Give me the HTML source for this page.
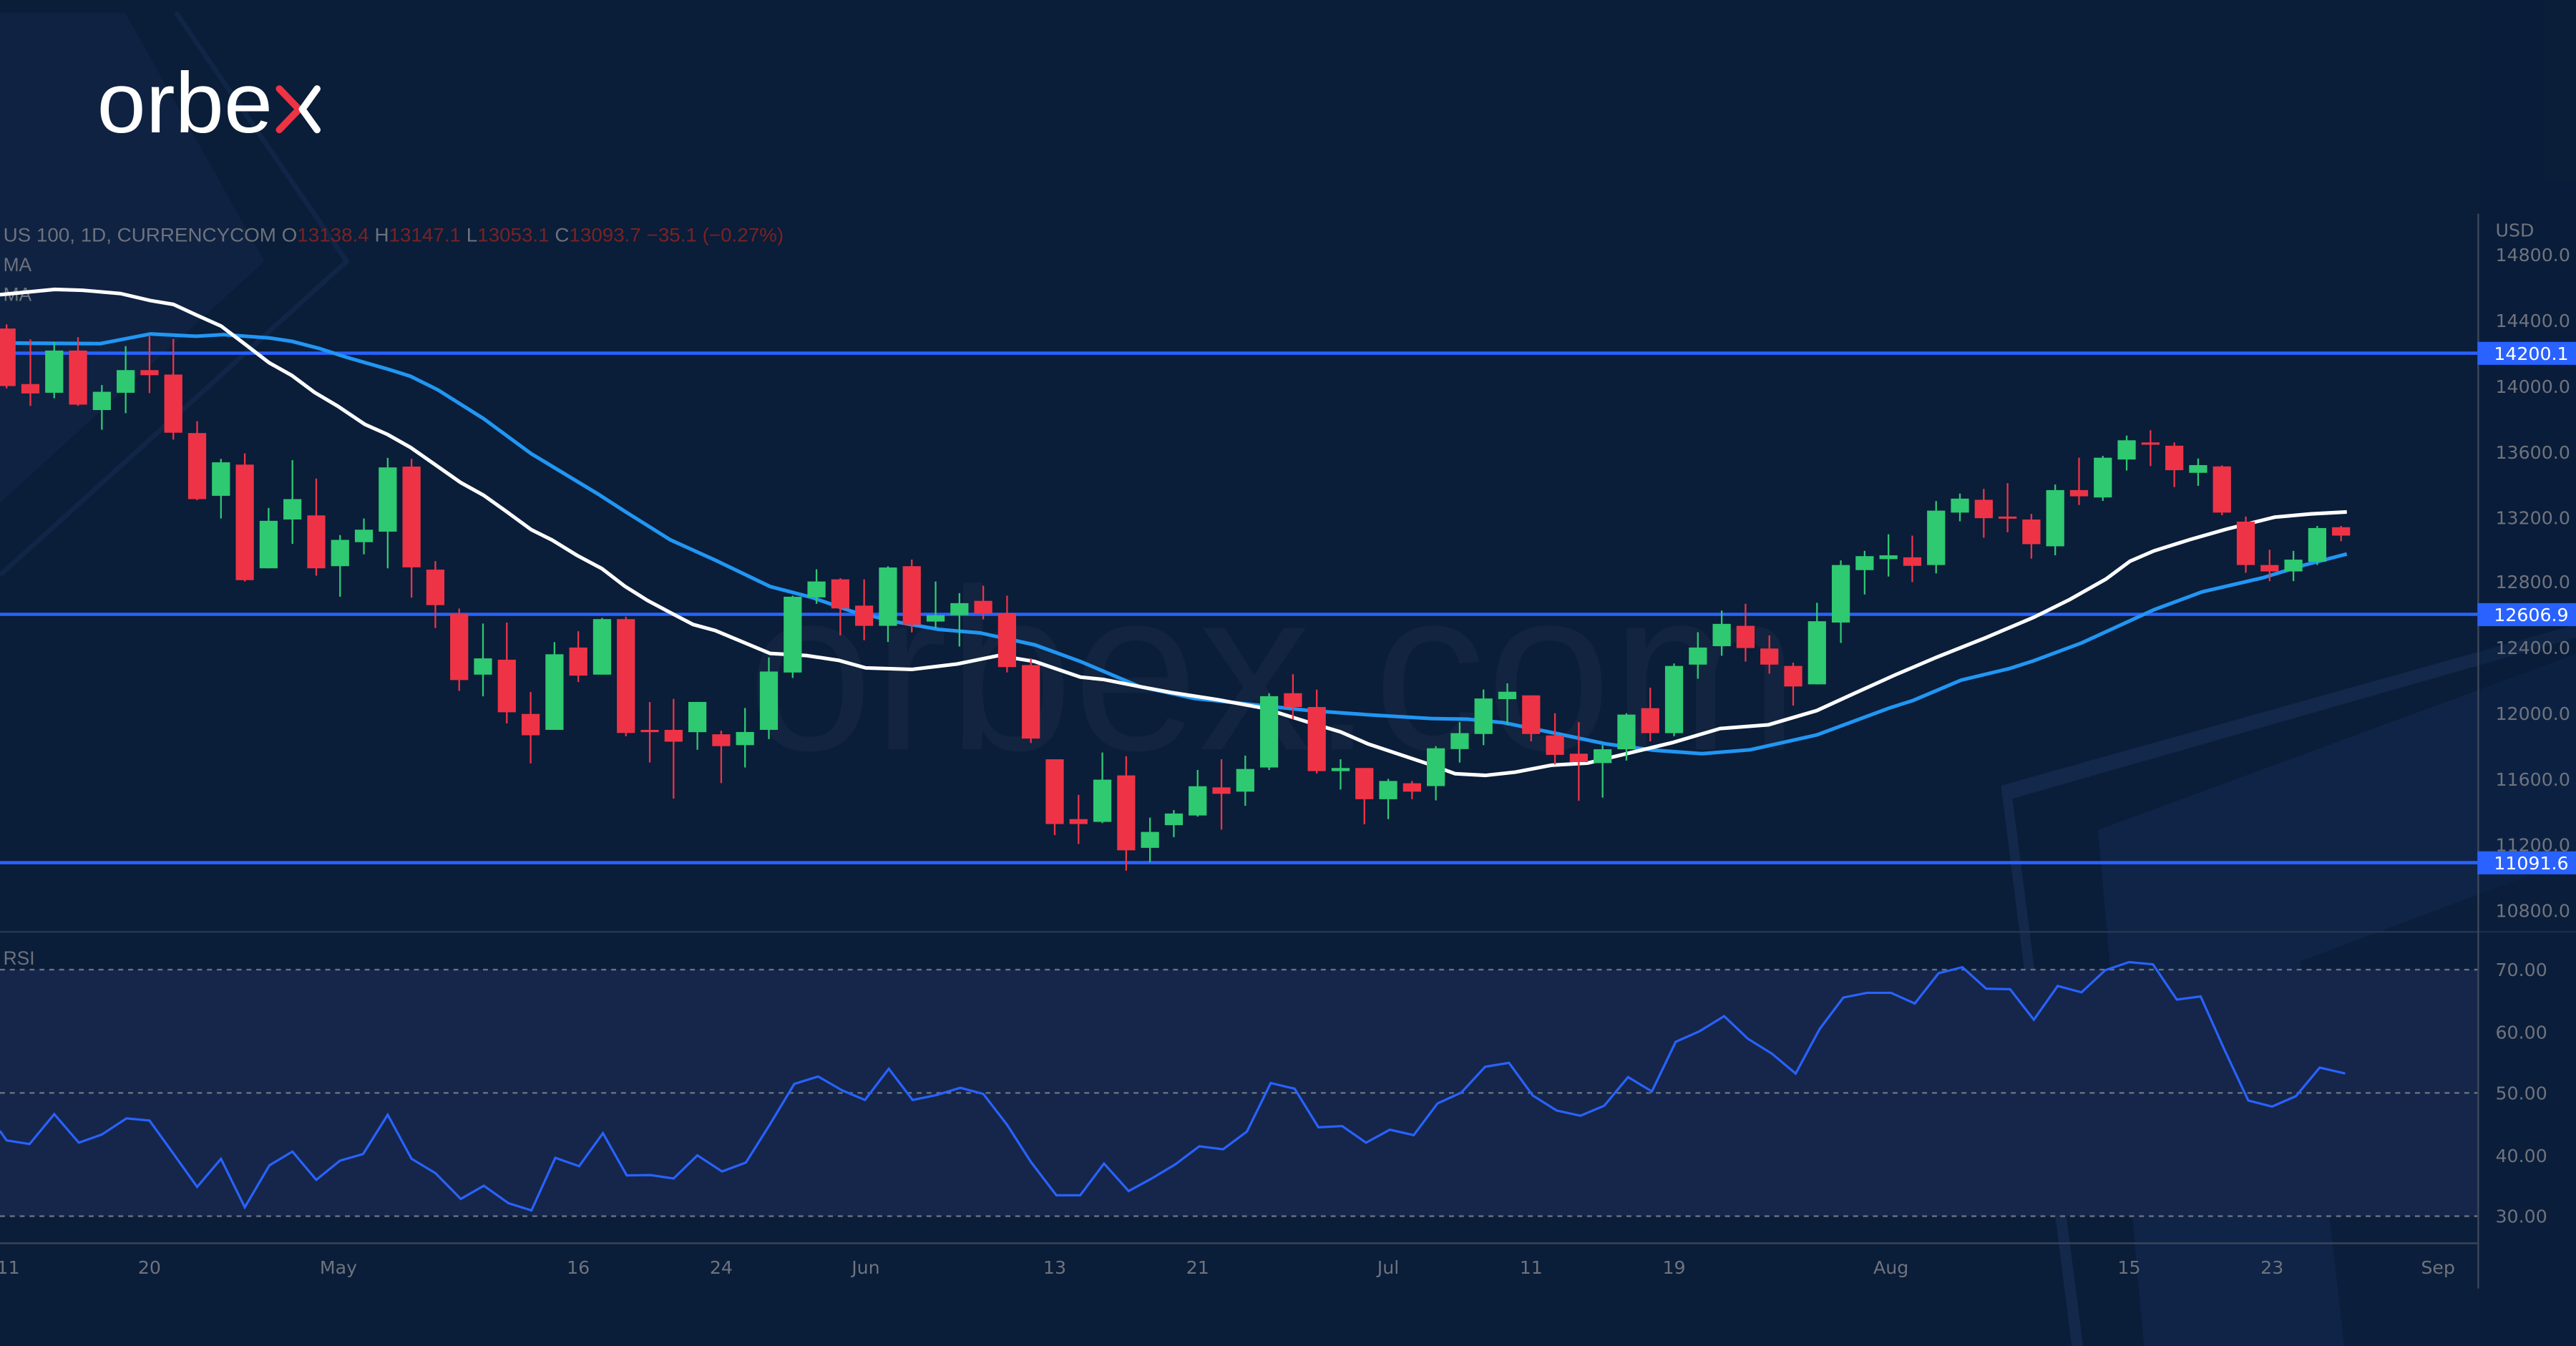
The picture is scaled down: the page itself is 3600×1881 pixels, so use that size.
<!DOCTYPE html>
<html><head><meta charset="utf-8"><style>
html,body{margin:0;padding:0;background:#0a1d39;}
svg{display:block}
</style></head><body>
<svg xmlns="http://www.w3.org/2000/svg" width="3600" height="1881" viewBox="0 0 1568 819" preserveAspectRatio="none">
<rect x="0" y="0" width="1568" height="819" fill="#0a1d39"/>
<polygon points="0,7.5 76,7.5 161,159 0,306" fill="#0f2444" opacity="0.9"/>
<polyline points="107,7.5 211,159 0,350" fill="none" stroke="#112646" stroke-width="3"/>
<polygon points="1218,478 1568,380 1568,388 1225,486 1268,819 1261,819" fill="#13284a"/>
<polygon points="1277,505 1568,398 1568,819 1305,819" fill="#11264a" opacity="0.85"/>
<polygon points="1400,585 1568,522 1568,819 1427,819" fill="#0b1e3b"/>
<text x="455" y="456" font-family="Liberation Sans, sans-serif" font-size="140" fill="#ffffff" fill-opacity="0.035" textLength="640" lengthAdjust="spacingAndGlyphs">orbex.com</text>
<text x="59" y="80.6" font-family="Liberation Sans, sans-serif" font-size="52" fill="#ffffff" textLength="107" lengthAdjust="spacingAndGlyphs">orbe</text>
<polyline points="170,54 182,66.5 170,79" fill="none" stroke="#ee3344" stroke-width="4.2" stroke-linecap="round" stroke-linejoin="round"/>
<polyline points="193,54 184,66.5 193,79" fill="none" stroke="#ffffff" stroke-width="4.2" stroke-linecap="round" stroke-linejoin="round"/>
<rect x="0" y="590" width="1508" height="150" fill="#15264a"/>
<g stroke="#6a7282" stroke-width="1" stroke-dasharray="3,3">
<line x1="0" y1="590" x2="1508" y2="590"/><line x1="0" y1="665" x2="1508" y2="665"/><line x1="0" y1="740" x2="1508" y2="740"/>
</g>
<line x1="0" y1="567" x2="1568" y2="567" stroke="#2a3850" stroke-width="1"/>
<line x1="0" y1="756.5" x2="1508" y2="756.5" stroke="#3a4658" stroke-width="1"/>
<line x1="1508.5" y1="130" x2="1508.5" y2="784" stroke="#3e4a5c" stroke-width="1"/>
<text x="2" y="147" font-family="Liberation Sans Narrow, Liberation Sans, sans-serif" font-size="11.5" fill="#6d727c" textLength="475" lengthAdjust="spacingAndGlyphs">US 100, 1D, CURRENCYCOM  O<tspan fill="#7a2222">13138.4</tspan>  H<tspan fill="#7a2222">13147.1</tspan>  L<tspan fill="#7a2222">13053.1</tspan>  C<tspan fill="#7a2222">13093.7</tspan>  <tspan fill="#7a2222">−35.1 (−0.27%)</tspan></text>
<text x="2" y="165" font-family="Liberation Sans Narrow, Liberation Sans, sans-serif" font-size="11.5" fill="#6d727c">MA</text>
<text x="2" y="183" font-family="Liberation Sans Narrow, Liberation Sans, sans-serif" font-size="11.5" fill="#6d727c">MA</text>
<text x="2" y="587" font-family="Liberation Sans Narrow, Liberation Sans, sans-serif" font-size="11.5" fill="#6d727c">RSI</text>
<g stroke="#2962ff" stroke-width="2">
<line x1="0" y1="214.9" x2="1508" y2="214.9"/><line x1="0" y1="373.8" x2="1508" y2="373.8"/><line x1="0" y1="524.9" x2="1508" y2="524.9"/>
</g>
<polyline fill="none" stroke="#2196f3" stroke-width="2.2" points="0,208.7 61,209.1 91.6,203.2 119.4,204.6 136,203.6 163.8,205.6 177.7,207.7 194.3,212 211,217.4 236,224.6 249.8,228.9 266.5,237.2 294.3,254.7 323.4,276.1 363.7,300.4 380.3,311.1 408.1,328.5 435.5,340.9 468.8,356.9 493.8,363.4 518.8,372.1 546.6,378.6 571.6,383 596.6,385.1 629.9,392.4 657.7,402.5 693.8,417.8 727.1,425 754.9,427.9 796.5,432.3 832.6,434.9 871,437.2 893.1,437.6 915.1,439.7 944.4,445.7 977.4,452.6 1006.8,456.5 1036.1,458.6 1065.5,456.2 1105.8,447.2 1149.8,430.9 1164.5,426.2 1193.8,413.8 1223.1,406.8 1237.8,402.1 1267.1,391.2 1311.1,371 1340.5,360.1 1377.2,351.6 1402.8,343.8 1428.5,337.1"/>
<polyline fill="none" stroke="#ffffff" stroke-width="2.2" points="0,179.3 33.3,176.1 50,176.6 73.3,178.6 91.6,182.9 105.5,185.2 119.4,191.6 134.6,198.4 149.9,210 163.8,220.7 177.7,228.5 191.5,238.8 205.4,247 222.1,258.2 236,264.4 249.8,272.2 263.7,281.9 280.4,293.6 294.3,301.3 308.1,311.1 323.4,322.3 335.9,328.5 351.2,337.9 366.4,346 380.3,356.7 394.2,365.4 410.8,374.2 421.9,380 435.5,383.7 468.8,397.6 491,398.9 510.5,401.8 527,406.4 555,407.3 582.7,404 607.7,398.9 629.9,402.5 657.7,412 671.5,413.4 693.8,417.8 713.2,421.4 741,425.7 768.7,430.8 796.5,439.5 815.9,445.3 832.6,452.6 871,465.4 885.8,470.8 904.1,471.8 922.4,469.8 944.4,465.6 966.4,464.3 992.1,458.1 1017.8,451.9 1047.1,443.3 1076.5,441 1105.8,432.4 1127.8,422.3 1153.5,410.7 1179.1,399.8 1208.5,388.1 1237.8,375.7 1259.8,364.8 1281.8,352.4 1296.5,341.5 1311.1,335.2 1333.1,328.3 1355.1,322 1384.5,314.7 1406.5,312.7 1428.5,311.5"/>
<g id="c"></g>
<polyline fill="none" stroke="#2962ff" stroke-width="1.4" points="0,688.1 4,693.9 18,696.1 33,677.9 48,695.3 62,690.3 77,680.5 91,681.8 105.5,701.9 120,722.2 134.5,705.1 149,734.6 164,709.1 178,700.7 192.5,717.9 207,706.2 221,702.2 236,678.3 250.5,705.1 265,713.8 280.5,729.5 294.5,721.5 309.5,732.1 323.5,736.5 338,704.5 352.5,709.6 367,689.5 381.5,715.2 396,715 410,717.1 424.5,703 439.5,712.8 454,707.4 468.5,684.4 483.5,659.5 498,655 512.5,663.4 526.5,669.3 541,650.3 555.5,669.3 570,666.3 584.5,661.9 598.5,665.6 613,684.4 627.5,707 643,727.3 657.5,727.3 672,708 687,724.7 701,717.1 715.5,708.4 730,697.5 744.5,699.3 759,688.5 773.5,659 784,661.5 788,662.4 802.5,685.9 817,685.2 831.5,695.3 846,687.4 860.5,690.7 875,671.4 889.5,664.8 904,649.1 918.5,646.7 933,666.6 947.5,675.7 962,678.9 976.5,672.8 991,655.4 1005.5,664.1 1020,633.9 1034.5,627.5 1049.5,618.3 1064,632.1 1078.5,641.1 1093,653.2 1107.5,626.3 1122,607 1136.5,604.1 1151,604.1 1165.5,610.6 1180,592.2 1194.5,588.5 1209,601.6 1223.5,601.9 1238,620.5 1252.5,599.9 1267,603.8 1281.5,590.3 1296,585.4 1310.5,586.8 1325,608.2 1339.5,606.3 1354,638.7 1368.5,669.6 1383,673.3 1397.5,667 1412,649.6 1427.5,653.2"/>
<rect x="1509" y="0" width="59" height="819" fill="#0a1d39" fill-opacity="0.35"/>
<g font-family="DejaVu Sans, sans-serif" font-size="11" fill="#6f737d">
<text x="1519" y="144">USD</text>
<text x="1519" y="159">14800.0</text>
<text x="1519" y="199">14400.0</text>
<text x="1519" y="239">14000.0</text>
<text x="1519" y="279">13600.0</text>
<text x="1519" y="319">13200.0</text>
<text x="1519" y="358">12800.0</text>
<text x="1519" y="398">12400.0</text>
<text x="1519" y="438">12000.0</text>
<text x="1519" y="478">11600.0</text>
<text x="1519" y="518">11200.0</text>
<text x="1519" y="558">10800.0</text>
<text x="1519" y="594">70.00</text>
<text x="1519" y="632">60.00</text>
<text x="1519" y="669">50.00</text>
<text x="1519" y="707">40.00</text>
<text x="1519" y="744">30.00</text>
</g>
<g font-family="DejaVu Sans, sans-serif" font-size="11" fill="#ffffff">
<rect x="1508" y="208" width="60" height="14" fill="#2962ff"/><text x="1518" y="219">14200.1</text>
<rect x="1508" y="367" width="60" height="14" fill="#2962ff"/><text x="1518" y="378">12606.9</text>
<rect x="1508" y="518" width="60" height="14" fill="#2962ff"/><text x="1518" y="529">11091.6</text>
</g>
<g font-family="DejaVu Sans, sans-serif" font-size="11" fill="#6f737d" text-anchor="middle">
<text x="5" y="775">11</text><text x="91" y="775">20</text><text x="206" y="775">May</text><text x="352" y="775">16</text><text x="439" y="775">24</text><text x="527" y="775">Jun</text><text x="642" y="775">13</text><text x="729" y="775">21</text><text x="845" y="775">Jul</text><text x="932" y="775">11</text><text x="1019" y="775">19</text><text x="1151" y="775">Aug</text><text x="1296" y="775">15</text><text x="1383" y="775">23</text><text x="1484" y="775">Sep</text>
</g>
</svg>
<script>
var d=[
[199.9,234.9,197.4,236.3,0],[233.7,239.4,206.5,247,0],[213.3,239,208.1,242.3,1],[213.3,246.2,205.2,247,0],[238.4,249.5,234.3,261.5,1],
[225.2,239,210.6,251.4,1],[225.2,228.3,204.6,239.2,0],[227.9,263.3,206.2,267.5,0],[263.5,303.7,256.3,304.4,0],[281.3,301.7,279.2,315.5,1],
[282.7,353,275.9,353.8,0],[316.9,345.8,309.1,345.8,1],[303.7,316.1,280,330.9,1],[313.6,345.8,291.2,350.3,0],[328.5,344.5,325.6,363.1,1],
[322.3,329.9,315.5,337.3,1],[284.4,323.5,278.6,345.8,1],[283.9,345.2,279.2,363.7,0],[346.6,368.2,341.4,382.1,0],[373.6,413.8,370.3,420.4,0],
[400.6,410.5,379.4,423.7,1],[401.4,433.4,378.8,440.2,0],[434.4,447.4,421,464.5,0],[398.1,444.1,390.7,444.1,1],[394,411.1,384.1,415,0],
[376.7,410.5,376,410.5,1],[376.7,446,375.2,448,0],[444.1,445.5,427.2,464,0],[444.1,451.3,425.3,485.9,0],[427.1,445.5,427.1,456.2,1],
[446.8,454,444.6,476.5,0],[445.4,453.4,430.8,467,1],[408.6,444.1,400,449.7,1],[363.1,409.2,362.4,412.5,1],[353.8,363.5,346.4,367.4,1],
[352.5,370.2,351.8,386.6,0],[368.5,380.8,352.5,389.5,0],[345.3,380.8,344.5,390.6,1],[344.5,380.1,340.5,384.8,0],[374.3,378.2,353.8,382.2,1],
[367,374.3,360.9,393.4,1],[365.6,373.5,356.4,376.9,0],[373.1,405.9,362.4,409.1,0],[404.7,449.4,400.6,452.1,0],[462,501.4,462,508.1,0],
[498.4,501.4,483.7,513.5,0],[474.4,500.1,457.9,500.8,1],[471.8,517.4,460.1,529.8,0],[506.2,515.9,497.5,524.6,1],[495,502.1,492.9,509.4,1],
[478.4,496.2,468.5,496.9,1],[479.1,483,462,504.8,0],[467.9,481.7,459.8,490.3,1],[423.6,467,421.8,468.5,1],[421.8,430.2,410.2,437.6,0],
[430.2,469.2,419.6,470.7,0],[467.3,469.2,462,480.4,1],[467.3,486.3,467.3,501.6,0],[475.2,486.3,473.9,498.4,1],[476.6,481.7,475.2,486.3,0],
[455.3,478.3,454,487,1],[446.1,455.8,439.4,464,1],[425,446.6,419.5,453.4,1],[420.9,425.4,415.8,441.3,1],[423.1,446.6,423.1,451.1,0],
[447.5,459.3,434,465.1,0],[458.6,463.7,439.4,487.3,0],[455.9,464.3,453.4,485.3,1],[434.8,455.9,434,462.8,1],[430.9,446.1,418.4,451.1,0],
[405.2,446.1,403.7,448,1],[394,404.4,384.7,413,1],[379.6,393.2,371.5,399,1],[380.8,394.3,367.4,402.6,0],[394.6,404.4,386.6,409.9,0],
[405.2,417.7,403.2,429.3,0],[378,416.4,366.8,416.4,1],[343.8,378.8,341,391.2,1],[338.4,346.9,335.2,361.7,1],[337.9,340.2,325.1,350.8,1],
[339.1,344.3,325.9,354.2,0],[310.7,343.8,304.9,348.9,1],[303.4,311.9,300.3,317.2,1],[304.1,315.3,297.5,327.2,0],[314.3,315.6,294,323.9,0],
[316.1,331.1,312.7,339.9,0],[298.2,332.4,294.8,337.9,1],[298.2,302,278.5,307.3,0],[278.5,302.7,277.4,304.8,1],[267.9,279.6,265,286.3,1],
[269.2,270.6,261.8,283.6,0],[271.2,286.1,269.2,296.4,0],[283,287.7,279,295.6,1],[283.8,311.9,283.2,313.5,0],[317.4,343.8,314.3,348.5,0],
[343.8,347.7,334.5,353.6,0],[340.5,347.7,335.2,353.6,1],[321.3,341.8,320,343.8,1],[320.8,325.9,320,329.3,0]];
var s='';
for(var i=0;i<d.length;i++){var c=d[i],x=4+i*14.5,col=c[4]?'#2ec971':'#ef3346';
s+='<line x1="'+x+'" x2="'+x+'" y1="'+c[2]+'" y2="'+c[3]+'" stroke="'+col+'" stroke-width="1"/>';
s+='<rect x="'+(x-5.5)+'" y="'+c[0]+'" width="11" height="'+Math.max(1.2,c[1]-c[0])+'" fill="'+col+'"/>';}
document.getElementById('c').innerHTML=s;
</script>
</body></html>
